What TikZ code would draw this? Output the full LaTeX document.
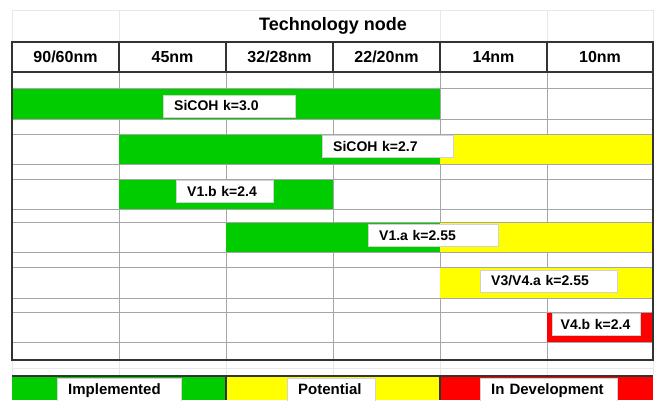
\documentclass[tikz,border=0pt]{standalone}
\usepackage{fontspec}
\setmainfont{Liberation Sans}
\definecolor{implgreen}{RGB}{0,204,0}
\definecolor{potyellow}{RGB}{255,255,0}
\definecolor{devred}{RGB}{255,0,0}
\tikzset{
  barlabel/.style={fill=white, draw=gray!35, anchor=west, align=left,
    inner xsep=11pt, inner ysep=0pt, minimum height=22pt},
  keylabel/.style={barlabel, minimum height=24pt, text height=11pt, text depth=3pt,
    font=\bfseries\fontsize{15}{17}\selectfont},
  gridline/.style={gray!70, line width=0.9pt},
  faintline/.style={gray!18, line width=0.8pt},
  darkline/.style={black!80, line width=1.4pt}
}
\begin{document}
\begin{tikzpicture}[x=1pt, y=-1pt, font=\bfseries\fontsize{14}{16}\selectfont]
\useasboundingbox (0,0) rectangle (655,400);
% title row
\draw[faintline] (12,10) -- (653,10);
\foreach \x in {12,119,440,547,653} \draw[faintline] (\x,10) -- (\x,42);
\node (title) at (333,26) {\fontsize{18}{20}\selectfont Technology node};
% body columns
\foreach \x in {119,226,333,440,547} \draw[gridline] (\x,72) -- (\x,360);
\foreach \x in {12,119,226,333,440,547,653} \draw[faintline] (\x,360) -- (\x,376);
% bars
\fill[implgreen] (12,88) rectangle (440,119);
\fill[implgreen] (119,134) rectangle (440,164);
\fill[potyellow] (440,134) rectangle (653,164);
\fill[implgreen] (119,179) rectangle (333,209);
\fill[implgreen] (226,222) rectangle (440,252);
\fill[potyellow] (440,222) rectangle (653,252);
\fill[potyellow] (440,267) rectangle (653,298);
\fill[devred] (547,312) rectangle (653,342);
% row lines
\foreach \y in {88,119,134,164,179,209,222,252,267,298,312,342} \draw[gridline] (12,\y) -- (653,\y);
\draw[faintline] (12,368) -- (653,368);
% header row and frame
\draw[darkline] (12,42) rectangle (653,72);
\foreach \x in {119,226,333,440,547} \draw[darkline] (\x,42) -- (\x,72);
\draw[darkline] (12,72) -- (12,360) -- (653,360) -- (653,72);
\node (h90) at (65.5,57) {\fontsize{16}{18}\selectfont 90/60nm};
\node (h45) at (172.5,57) {\fontsize{16}{18}\selectfont 45nm};
\node (h32) at (279.5,57) {\fontsize{16}{18}\selectfont 32/28nm};
\node (h22) at (386.5,57) {\fontsize{16}{18}\selectfont 22/20nm};
\node (h14) at (493.5,57) {\fontsize{16}{18}\selectfont 14nm};
\node (h10) at (600,57) {\fontsize{16}{18}\selectfont 10nm};
% bar labels
\node[barlabel, text width=110pt] (sicohA) at (163,106) {SiCOH k=3.0};
\node[barlabel, text width=109pt] (sicohB) at (322,146) {SiCOH k=2.7};
\node[barlabel, text width=75pt] (vonebB) at (176,191) {V1.b k=2.4};
\node[barlabel, text width=108pt] (vonebA) at (368,235) {V1.a k=2.55};
\node[barlabel, text width=115pt] (vfourA) at (480,281) {V3/V4.a k=2.55};
\node[barlabel, text width=71pt, inner xsep=8.5pt] (vfourB) at (552,324) {V4.b k=2.4};
% legend
\fill[implgreen] (12,376) rectangle (226,400);
\fill[potyellow] (226,376) rectangle (440,400);
\fill[devred] (440,376) rectangle (653,400);
\draw[darkline] (12,376) -- (653,376);
\draw[darkline] (226,376) -- (226,400);
\draw[darkline] (440,376) -- (440,400);
\node[keylabel, text width=102pt] (implemented) at (57,390) {Implemented};
\node[keylabel, text width=66pt] (potential) at (287,390) {Potential};
\node[keylabel, text width=115pt] (indev) at (480,390) {In Development};
\end{tikzpicture}
\end{document}
